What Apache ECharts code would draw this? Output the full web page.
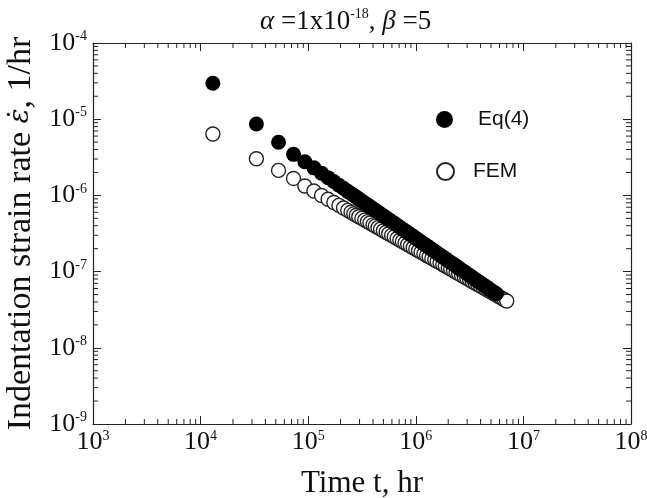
<!DOCTYPE html>
<html>
<head>
<meta charset="utf-8">
<script src="https://cdn.jsdelivr.net/npm/echarts@6/dist/echarts.min.js"></script>
<style>
  html, body { margin: 0; padding: 0; background: #fff; }
  #chart { width: 647px; height: 498px; }
</style>
</head>
<body>
<div id="chart"></div>
<script>
// time values, hr (Eq(4) series)
const timeEq = [1.3e4, 3.3e4, 5.3e4, 7.3e4, 9.3e4, 1.13e5, 1.33e5, 1.53e5, 1.73e5, 1.93e5, 2.13e5, 2.33e5,
  2.5e5, 2.65e5, 2.8e5, 2.95e5, 3.15e5, 3.35e5, 3.55e5, 3.75e5, 4.0e5, 4.2e5, 4.45e5, 4.7e5,
  5.0e5, 5.3e5, 5.6e5, 5.95e5, 6.3e5, 6.7e5, 7.1e5, 7.5e5, 7.95e5, 8.4e5, 8.9e5, 9.45e5,
  1.0e6, 1.06e6, 1.12e6, 1.19e6, 1.26e6, 1.33e6, 1.41e6, 1.5e6, 1.58e6, 1.68e6, 1.78e6, 1.88e6,
  2.0e6, 2.11e6, 2.24e6, 2.37e6, 2.5e6, 2.66e6, 2.82e6, 2.98e6, 3.16e6, 3.35e6, 3.55e6, 3.76e6,
  3.98e6, 4.22e6, 4.47e6, 4.73e6, 5.0e6, 5.3e6, 5.6e6]
// Eq(4) strain rate, 1/hr
const rateEq = [2.96e-5, 8.65e-6, 4.98e-6, 3.46e-6, 2.77e-6, 2.30e-6, 1.96e-6, 1.71e-6, 1.52e-6, 1.36e-6, 1.24e-6, 1.13e-6,
  1.06e-6, 1.00e-6, 9.48e-7, 9.01e-7, 8.45e-7, 7.96e-7, 7.53e-7, 7.13e-7, 6.70e-7, 6.38e-7, 6.04e-7, 5.72e-7,
  5.38e-7, 5.09e-7, 4.82e-7, 4.54e-7, 4.31e-7, 4.05e-7, 3.83e-7, 3.63e-7, 3.43e-7, 3.25e-7, 3.07e-7, 2.90e-7,
  2.74e-7, 2.59e-7, 2.45e-7, 2.31e-7, 2.19e-7, 2.07e-7, 1.96e-7, 1.85e-7, 1.75e-7, 1.65e-7, 1.56e-7, 1.48e-7,
  1.39e-7, 1.32e-7, 1.25e-7, 1.18e-7, 1.12e-7, 1.05e-7, 9.98e-8, 9.46e-8, 8.92e-8, 8.44e-8, 7.96e-8, 7.53e-8,
  7.13e-8, 6.73e-8, 6.37e-8, 6.03e-8, 5.70e-8, 5.40e-8, 5.11e-8]

// time values, hr (FEM series)
const timeFem = [1.3e4, 3.3e4, 5.3e4, 7.3e4, 9.3e4, 1.13e5, 1.33e5, 1.53e5, 1.73e5, 1.93e5, 2.13e5, 2.33e5,
  2.5e5, 2.65e5, 2.8e5, 2.95e5, 3.15e5, 3.35e5, 3.55e5, 3.75e5, 4.0e5, 4.2e5, 4.45e5, 4.7e5,
  5.0e5, 5.3e5, 5.6e5, 5.95e5, 6.3e5, 6.7e5, 7.1e5, 7.5e5, 7.95e5, 8.4e5, 8.9e5, 9.45e5,
  1.0e6, 1.06e6, 1.12e6, 1.19e6, 1.26e6, 1.33e6, 1.41e6, 1.5e6, 1.58e6, 1.68e6, 1.78e6, 1.88e6,
  2.0e6, 2.11e6, 2.24e6, 2.37e6, 2.5e6, 2.66e6, 2.82e6, 2.98e6, 3.16e6, 3.35e6, 3.55e6, 3.76e6,
  3.98e6, 4.22e6, 4.47e6, 4.73e6, 5.0e6, 5.3e6, 5.6e6, 5.95e6, 6.3e6, 6.65e6, 7.0e6]
// FEM strain rate, 1/hr
const rateFem = [6.4e-6, 3.03e-6, 2.13e-6, 1.67e-6, 1.33e-6, 1.14e-6, 9.98e-7, 8.91e-7, 8.07e-7, 7.39e-7, 6.84e-7, 6.36e-7,
  6.00e-7, 5.73e-7, 5.48e-7, 5.25e-7, 4.99e-7, 4.74e-7, 4.53e-7, 4.34e-7, 4.11e-7, 3.95e-7, 3.78e-7, 3.61e-7,
  3.44e-7, 3.28e-7, 3.14e-7, 2.99e-7, 2.86e-7, 2.72e-7, 2.59e-7, 2.48e-7, 2.37e-7, 2.26e-7, 2.16e-7, 2.06e-7,
  1.97e-7, 1.88e-7, 1.80e-7, 1.71e-7, 1.63e-7, 1.56e-7, 1.49e-7, 1.42e-7, 1.36e-7, 1.30e-7, 1.24e-7, 1.18e-7,
  1.13e-7, 1.08e-7, 1.03e-7, 9.82e-8, 9.40e-8, 8.95e-8, 8.55e-8, 8.17e-8, 7.78e-8, 7.43e-8, 7.09e-8, 6.78e-8,
  6.47e-8, 6.18e-8, 5.90e-8, 5.63e-8, 5.38e-8, 5.14e-8, 4.92e-8, 4.68e-8, 4.48e-8, 4.28e-8, 4.11e-8]

// axis range and minor ticks
const xDecades = [1e3, 1e4, 1e5, 1e6, 1e7]
const yDecades = [1e-9, 1e-8, 1e-7, 1e-6, 1e-5]
const minorSteps = [2, 3, 4, 5, 6, 7, 8, 9]
const X_MIN = 1e3, X_MAX = 1e8, Y_MIN = 1e-9, Y_MAX = 1e-4

const xMinor = xDecades.flatMap((d) => minorSteps.map((m) => m * d))
const yMinor = yDecades.flatMap((d) => minorSteps.map((m) => m * d))

const SERIF = "'Liberation Serif', 'Times New Roman', serif"
const SANS = "'Liberation Sans', Arial, sans-serif"

const chart = echarts.init(document.getElementById("chart"), null, { renderer: "canvas" })

function powLabel(v) {
  const e = Math.round(Math.log10(v))
  return "{b|10}{s|" + e + "}"
}
const powRich = {
  b: { fontFamily: SERIF, fontSize: 26, color: "#111", lineHeight: 27, verticalAlign: "middle" },
  s: { fontFamily: SERIF, fontSize: 14, color: "#111", lineHeight: 27, verticalAlign: "top" }
}

const axisLine = { show: true, lineStyle: { color: "#222", width: 1.2 } }
const majorTick = { show: true, inside: true, length: 8, lineStyle: { color: "#222", width: 1 } }

const tickStyle = { stroke: "#222", lineWidth: 1 }

// minor ticks on bottom and top frame
function xMinorItem(params, api) {
  const v = api.value(0)
  const b = api.coord([v, Y_MIN])
  const t = api.coord([v, Y_MAX])
  return {
    type: "group",
    children: [
      { type: "line", shape: { x1: b[0], y1: b[1], x2: b[0], y2: b[1] - 5 }, style: tickStyle },
      { type: "line", shape: { x1: t[0], y1: t[1], x2: t[0], y2: t[1] + 5 }, style: tickStyle }
    ]
  }
}

// minor ticks on left and right frame
function yMinorItem(params, api) {
  const v = api.value(1)
  const l = api.coord([X_MIN, v])
  const r = api.coord([X_MAX, v])
  return {
    type: "group",
    children: [
      { type: "line", shape: { x1: l[0], y1: l[1], x2: l[0] + 5, y2: l[1] }, style: tickStyle },
      { type: "line", shape: { x1: r[0], y1: r[1], x2: r[0] - 5, y2: r[1] }, style: tickStyle }
    ]
  }
}

const option = {
  backgroundColor: "#fff",
  animation: false,
  title: {
    text: "{i|α} =1x10{s|-18}, {i|β} =5",
    left: 255,
    top: 2,
    textStyle: {
      fontFamily: SERIF, fontSize: 27, fontWeight: "normal", color: "#111", lineHeight: 30,
      rich: {
        i: { fontFamily: SERIF, fontSize: 27, fontStyle: "italic", color: "#111", lineHeight: 30 },
        s: { fontFamily: SERIF, fontSize: 14, color: "#111", lineHeight: 30, verticalAlign: "top" }
      }
    }
  },
  legend: [
    {
      data: ["Eq(4)"],
      left: 431, top: 104,
      itemWidth: 17, itemHeight: 17,
      icon: "circle",
      textStyle: { fontFamily: SANS, fontSize: 21, color: "#111", padding: [0, 0, 0, 20] }
    },
    {
      data: ["FEM"],
      left: 431, top: 156,
      itemWidth: 17, itemHeight: 17,
      icon: "circle",
      textStyle: { fontFamily: SANS, fontSize: 21, color: "#111", padding: [0, 0, 0, 14] }
    }
  ],
  grid: { left: 93, right: 16, top: 43, bottom: 74, containLabel: false, outerBoundsMode: "none" },
  xAxis: [
    {
      type: "log", logBase: 10, min: X_MIN, max: X_MAX, splitNumber: 5,
      position: "bottom",
      axisLine: axisLine, axisTick: majorTick, splitLine: { show: false },
      axisLabel: { margin: 5, formatter: powLabel, rich: powRich, verticalAlign: "top" },
      name: "Time t, hr", nameLocation: "middle", nameGap: 44,
      nameTextStyle: { fontFamily: SERIF, fontSize: 31, color: "#111", lineHeight: 32 }
    },
    {
      type: "log", logBase: 10, min: X_MIN, max: X_MAX, splitNumber: 5,
      position: "top",
      axisLine: axisLine, axisTick: majorTick, splitLine: { show: false },
      axisLabel: { show: false }
    }
  ],
  yAxis: [
    {
      type: "log", logBase: 10, min: Y_MIN, max: Y_MAX, splitNumber: 5,
      position: "left",
      axisLine: axisLine, axisTick: majorTick, splitLine: { show: false },
      axisLabel: { margin: 6, formatter: powLabel, rich: powRich },
      name: "{n|Indentation strain rate }{e|ε\u0307}{n|, 1/hr}",
      nameLocation: "middle", nameGap: 54, nameRotate: 90,
      nameTextStyle: {
        rich: {
          n: { fontFamily: SERIF, fontSize: 34, color: "#111", lineHeight: 36 },
          e: { fontFamily: "'DejaVu Serif', serif", fontSize: 28, fontStyle: "italic", color: "#111", lineHeight: 36 }
        }
      }
    },
    {
      type: "log", logBase: 10, min: Y_MIN, max: Y_MAX, splitNumber: 5,
      position: "right",
      axisLine: axisLine, axisTick: majorTick, splitLine: { show: false },
      axisLabel: { show: false }
    }
  ],
  series: [
    {
      type: "custom",
      silent: true,
      clip: false,
      renderItem: xMinorItem,
      data: xMinor.map((v) => [v, Y_MIN])
    },
    {
      type: "custom",
      silent: true,
      clip: false,
      renderItem: yMinorItem,
      data: yMinor.map((v) => [X_MIN, v])
    },
    {
      name: "FEM",
      type: "scatter",
      symbol: "circle",
      symbolSize: 14,
      itemStyle: { color: "#fff", borderColor: "#222", borderWidth: 1.4, opacity: 1 },
      data: timeFem.map((t, i) => [t, rateFem[i]])
    },
    {
      name: "Eq(4)",
      type: "scatter",
      symbol: "circle",
      symbolSize: 15,
      itemStyle: { color: "#000", opacity: 1 },
      data: timeEq.map((t, i) => [t, rateEq[i]])
    }
  ]
}

chart.setOption(option)
</script>
</body>
</html>
